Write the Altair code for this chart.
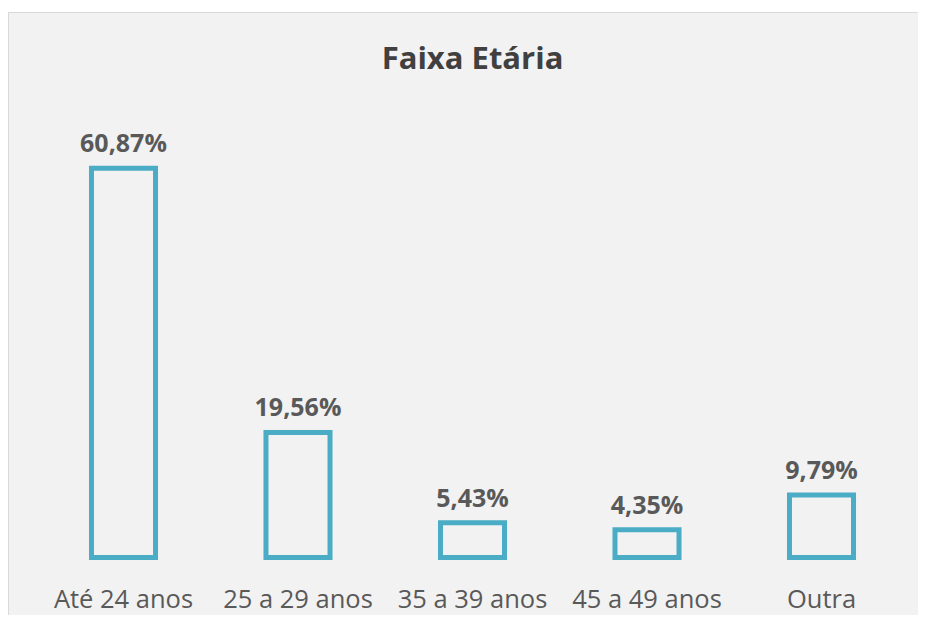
import altair as alt
import pandas as pd

categories = ["Até 24 anos", "25 a 29 anos", "35 a 39 anos", "45 a 49 anos", "Outra"]
values = [60.87, 19.56, 5.43, 4.35, 9.79]
labels = ["60,87%", "19,56%", "5,43%", "4,35%", "9,79%"]

df = pd.DataFrame({"cat": categories, "val": values, "lab": labels})

FONT = "Open Sans"
CW, CH = 910, 607
W, H = 872.5, 447.5
PAD_L, PAD_T = 28.25, 102

x = alt.X(
    "cat:N",
    sort=categories,
    scale=alt.Scale(paddingInner=0.633, paddingOuter=0.3165),
    axis=alt.Axis(
        title=None, domain=False, ticks=False, grid=False, labelAngle=0,
        labelFont=FONT, labelFontSize=25.5, labelColor="#595959",
        labelPadding=49.5, labelBaseline="alphabetic",
    ),
)
y = alt.Y("val:Q", scale=alt.Scale(domain=[0, 70]), axis=None)

bars = alt.Chart(df).mark_bar(fill="#f2f2f2", stroke="#4bacc6", strokeWidth=5).encode(x=x, y=y)
text = alt.Chart(df).mark_text(
    font=FONT, fontSize=25, fontWeight="bold", color="#595959",
    baseline="alphabetic", dy=-16,
).encode(x=x, y=y, text="lab:N")

deco_df = pd.DataFrame({"d": [0]})
strip = alt.Chart(deco_df).mark_rect(color="white").encode(
    x=alt.value(-PAD_L), x2=alt.value(CW - PAD_L),
    y=alt.value(-PAD_T), y2=alt.value(-PAD_T + 4),
)
top_border = alt.Chart(deco_df).mark_rule(color="#d9d9d9", strokeWidth=1).encode(
    x=alt.value(-PAD_L), x2=alt.value(CW - PAD_L), y=alt.value(-PAD_T + 4.5),
)
left_border = alt.Chart(deco_df).mark_rule(color="#d9d9d9", strokeWidth=1).encode(
    x=alt.value(-PAD_L + 0.5), y=alt.value(-PAD_T + 4), y2=alt.value(CH - PAD_T),
)
title = alt.Chart(deco_df).mark_text(
    text="Faixa Etária", font=FONT, fontSize=31, fontWeight="bold", color="#404040",
    baseline="alphabetic", align="center",
).encode(x=alt.value(W / 2), y=alt.value(-41))

chart = alt.layer(strip, top_border, left_border, title, bars, text).properties(
    width=W, height=H,
    background="#f2f2f2",
    autosize=alt.AutoSizeParams(type="none"),
    padding={"left": PAD_L, "top": PAD_T, "right": CW - PAD_L - W, "bottom": CH - PAD_T - H},
).configure_view(stroke=None)

chart.save("out.html", embed_options={"renderer": "svg", "actions": False})
